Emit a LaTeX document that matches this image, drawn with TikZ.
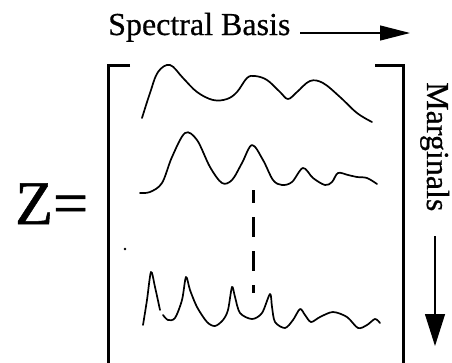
\documentclass[tikz,border=0pt]{standalone}
\usepackage{fontspec}
\setmainfont{Liberation Serif}
\newfontfamily\lblfont[FakeBold=0.6]{Liberation Serif}
\newfontfamily\zfont[FakeBold=0.9]{Liberation Serif}
\usetikzlibrary{arrows.meta}
\begin{document}
\begin{tikzpicture}[x=1pt,y=-1pt,
  lbl/.style={inner sep=0pt,font=\lblfont\fontsize{32}{36}\selectfont},
  curve/.style={line width=1.7pt,line cap=round,line join=round},
  brack/.style={line width=3pt},
  axarrow/.style={line width=1.2pt}]
\useasboundingbox (0,0) rectangle (452,362);
% labels
\node[lbl,anchor=base west] (spec) at (108,35) {Spectral Basis};
\node[lbl,anchor=base west,rotate=-90] (marg) at (427,82) {Marginals};
\node[inner sep=0pt,anchor=base west,font=\zfont\fontsize{62}{66}\selectfont] (z) at (15,224) {Z=};
% arrows
\coordinate (hs) at (300,33);
\coordinate (he) at (410,33);
\coordinate (vs) at (435,236);
\coordinate (ve) at (435,346);
\draw[axarrow,-{Triangle[length=30pt,width=15pt]}] (hs) -- (he);
\draw[axarrow,-{Triangle[length=32pt,width=20pt]}] (vs) -- (ve);
% brackets
\draw[brack] (130,65) -- (108.5,65) -- (108.5,364);
\draw[brack] (375,65) -- (403,65) -- (403,364);
% curve 1
\draw[curve] plot[smooth,tension=0.6] coordinates {(142,118) (150,93) (158,72) (170,65) (183,78) (197,92) (213,100) (227,99) (237,92) (247,78) (255,76) (267,80) (280,92) (288,99) (297,92) (310,81) (323,83) (340,97) (357,113) (372,122)};
% curve 2
\draw[curve] plot[smooth,tension=0.55] coordinates {(140,193) (150,192) (162,183) (172,157) (185,133) (197,140) (210,167) (222,183) (232,180) (242,163) (252,145) (263,160) (273,180) (282,185) (292,182) (303,168) (313,178) (325,185) (332,182) (338,173) (348,175) (357,177) (367,178) (377,184)};
% curve 3
\draw[curve] plot[smooth,tension=0.5] coordinates {(143,325) (147,300) (151,272) (155,287) (160,310)};
\draw[curve] plot[smooth,tension=0.5] coordinates {(163,315) (168,320) (175,318) (182,300) (186,277) (190,290) (197,307) (207,322) (215,326) (223,320) (228,310) (232,287) (235,297) (240,313) (252,319) (262,313) (270,294) (272,307) (275,322) (285,328) (293,320) (300,309) (305,315) (311,322) (320,317) (333,312) (347,317) (358,328) (367,325) (375,319) (380,323)};
% dashed line
\coordinate (ds) at (253,190);
\coordinate (de) at (253,293);
\draw[line width=3pt,dash pattern=on 20pt off 14pt,dash phase=7pt] (ds) -- (de);
% speck
\fill (125,249) circle (1.3);
\end{tikzpicture}
\end{document}
